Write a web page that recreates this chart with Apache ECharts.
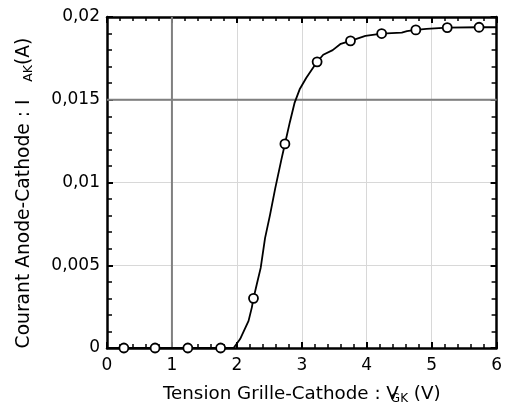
<!DOCTYPE html>
<html>
<head>
<meta charset="utf-8">
<script src="https://cdn.jsdelivr.net/npm/echarts@6/dist/echarts.min.js"></script>
<style>
  html, body { margin: 0; padding: 0; background: #fff; }
  #main { width: 505px; height: 410px; }
</style>
</head>
<body>
<div id="main"></div>
<script>
// points mesurés (cercles)
var mesuresV = [0.26, 0.74, 1.245, 1.75, 2.256, 2.74, 3.236, 3.75, 4.23, 4.756, 5.24, 5.73];
var mesuresI = [0, 0, 0, 0, 0.0030, 0.01233, 0.01729, 0.01856, 0.0190, 0.01922, 0.01936, 0.01938];

// courbe lissée
var courbeV = [0, 1.95, 2.05, 2.18, 2.23, 2.256, 2.306, 2.367, 2.434, 2.51, 2.59, 2.688, 2.74,
  2.815, 2.89, 2.967, 3.07, 3.236, 3.33, 3.476, 3.60, 3.75, 3.98, 4.23, 4.54, 4.62, 4.756,
  4.92, 5.24, 5.73, 6];
var courbeI = [0, 0, 0.00054, 0.00164, 0.00244, 0.0030, 0.00384, 0.00484, 0.00664, 0.00803,
  0.00963, 0.01143, 0.01233, 0.01363, 0.01483, 0.01563, 0.01633, 0.01729, 0.01772, 0.0180,
  0.01838, 0.01856, 0.01886, 0.0190, 0.01906, 0.01915, 0.01922, 0.01928, 0.01936, 0.01938, 0.01938];

// repères (traits gris)
var repereV = 1;
var repereI = 0.015;

var xTicks = [0, 1, 2, 3, 4, 5, 6];
var yTicks = ['0', '0,005', '0,01', '0,015', '0,02'];

var courbe = courbeV.map(function (v, i) { return [v, courbeI[i]]; });
var mesures = mesuresV.map(function (v, i) { return [v, mesuresI[i]]; });

var chart = echarts.init(document.getElementById('main'));

var police = 'DejaVu Sans, Liberation Sans, sans-serif';

var axeX = {
  type: 'value', min: 0, max: 6, interval: 1,
  axisLine: { show: true, onZero: false, lineStyle: { color: '#000', width: 2.5 } },
  axisTick: { show: true, inside: true, length: 6, lineStyle: { color: '#000', width: 2 } },
  splitLine: { show: false }
};
var axeY = {
  type: 'value', min: 0, max: 0.02, interval: 0.005,
  axisLine: { show: true, onZero: false, lineStyle: { color: '#000', width: 2.5 } },
  axisTick: { show: true, inside: true, length: 6, lineStyle: { color: '#000', width: 2 } },
  splitLine: { show: false }
};
// petites graduations : axes sans trait ni texte
function petitesX(pos) {
  return {
    type: 'value', min: 0, max: 6, interval: 0.2, position: pos,
    axisLine: { show: false, onZero: false },
    axisTick: { show: true, inside: true, length: 4, lineStyle: { color: '#000', width: 1.5 } },
    axisLabel: { show: false }, splitLine: { show: false }
  };
}
function petitesY(pos) {
  return {
    type: 'value', min: 0, max: 0.02, interval: 0.001, position: pos,
    axisLine: { show: false, onZero: false },
    axisTick: { show: true, inside: true, length: 5, lineStyle: { color: '#000', width: 1.5 } },
    axisLabel: { show: false }, splitLine: { show: false }
  };
}

chart.setOption({
  animation: false,
  backgroundColor: '#fff',
  textStyle: { fontFamily: police },
  grid: { left: 107, right: 5, top: 17, bottom: 59 },
  xAxis: [
    Object.assign({}, axeX, {
      position: 'bottom',
      axisLabel: {
        color: '#000', fontSize: 17, fontFamily: police, margin: 9,
        formatter: function (v) { return xTicks.indexOf(v) >= 0 ? String(v) : ''; }
      },
      splitLine: { show: true, lineStyle: { color: '#d8d8d8', width: 1 } },
      name: '{a|Tension Grille-Cathode : V}{s|GK}{a| (V)}',
      nameLocation: 'middle',
      nameGap: 37,
      nameTextStyle: {
        rich: {
          a: { fontSize: 18.3, color: '#000', fontFamily: police, lineHeight: 20, verticalAlign: 'top' },
          s: { fontSize: 12, color: '#000', fontFamily: police, lineHeight: 20, verticalAlign: 'bottom', padding: [9, 0, 0, -8] }
        }
      }
    }),
    Object.assign({}, axeX, { position: 'top', axisLabel: { show: false } }),
    petitesX('bottom'),
    petitesX('top')
  ],
  yAxis: [
    Object.assign({}, axeY, {
      position: 'left',
      axisLabel: {
        color: '#000', fontSize: 17, fontFamily: police, margin: 7,
        formatter: function (v) { return yTicks[Math.round(v / 0.005)]; }
      },
      splitLine: { show: true, lineStyle: { color: '#d8d8d8', width: 1 } },
      name: '{a|Courant Anode-Cathode : I   }{s|AK}{e|(A)}',
      nameLocation: 'middle',
      nameRotate: 90,
      nameGap: 72,
      nameTextStyle: {
        rich: {
          a: { fontSize: 18.7, color: '#000', fontFamily: police, lineHeight: 20, verticalAlign: 'top' },
          e: { fontSize: 18.7, color: '#000', fontFamily: police, lineHeight: 20, verticalAlign: 'top', padding: [0, 21, 0, 0] },
          s: { fontSize: 12.5, color: '#000', fontFamily: police, lineHeight: 20, verticalAlign: 'bottom', padding: [9, 0, 0, 0] }
        }
      }
    }),
    Object.assign({}, axeY, { position: 'right', axisLabel: { show: false } }),
    petitesY('left'),
    petitesY('right')
  ],
  series: [
    {
      type: 'line',
      data: [[repereV, 0], [repereV, 0.02]],
      showSymbol: false, silent: true,
      lineStyle: { color: '#808080', width: 2 },
      z: 1
    },
    {
      type: 'line',
      data: [[0, repereI], [6, repereI]],
      showSymbol: false, silent: true,
      lineStyle: { color: '#808080', width: 2 },
      z: 1
    },
    {
      type: 'line',
      data: courbe,
      showSymbol: false,
      lineStyle: { color: '#000', width: 1.8 },
      z: 3
    },
    {
      type: 'scatter',
      data: mesures,
      symbol: 'circle',
      symbolSize: 9,
      itemStyle: { color: '#fff', borderColor: '#000', borderWidth: 1.8, opacity: 1 },
      z: 4
    }
  ]
});
</script>
</body>
</html>
